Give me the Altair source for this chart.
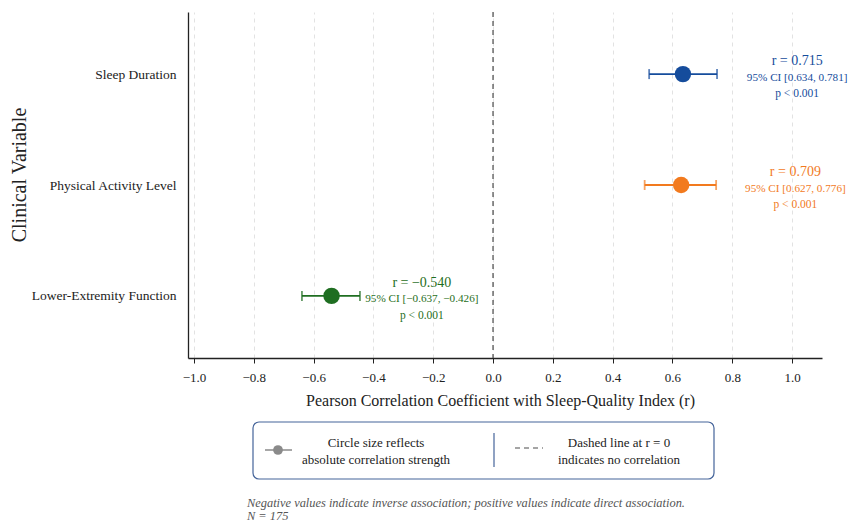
import altair as alt
import pandas as pd

# ---- data ----
variables = ["Sleep Duration", "Physical Activity Level", "Lower-Extremity Function"]
r_values = [0.715, 0.709, -0.540]
ci_low = [0.634, 0.627, -0.637]
ci_high = [0.781, 0.776, -0.426]
p_text = ["p < 0.001", "p < 0.001", "p < 0.001"]
# where the markers are drawn in the reference picture
point_x = [0.635, 0.629, -0.540]
bar_low = [0.522, 0.507, -0.639]
bar_high = [0.749, 0.746, -0.445]
colors = ["#154c9c", "#f27a1e", "#1f6e21"]
x_ticks = [-1.0, -0.8, -0.6, -0.4, -0.2, 0.0, 0.2, 0.4, 0.6, 0.8, 1.0]

FONT = "Liberation Serif"


def fmt(v):
    return f"{v:.3f}".replace("-", "\u2212")


df = pd.DataFrame({
    "variable": variables,
    "r": r_values,
    "px": point_x,
    "lo": bar_low,
    "hi": bar_high,
    "rlab": [f"r = {fmt(v)}" for v in r_values],
    "cilab": [f"95% CI [{fmt(a)}, {fmt(b)}]" for a, b in zip(ci_low, ci_high)],
    "plab": p_text,
})
df["label_x"] = df["r"] + 0.302

xscale = alt.Scale(domain=[-1.02, 1.1], nice=False, zero=False)
yscale = alt.Scale(type="point", padding=0.56, domain=variables)
cscale = alt.Scale(domain=variables, range=colors)

base = alt.Chart(df)

y_enc = alt.Y("variable:N", scale=yscale, sort=variables,
              axis=alt.Axis(title=None, ticks=False, labelFontSize=13.5, labelFont=FONT,
                            labelColor="#222", labelPadding=12, domainColor="#222",
                            domainWidth=1.3, grid=False))
col = alt.Color("variable:N", scale=cscale, legend=None)

errbar = base.mark_rule(strokeWidth=1.8).encode(
    x=alt.X("lo:Q", scale=xscale,
            axis=alt.Axis(values=x_ticks, format=".1f",
                          title="Pearson Correlation Coefficient with Sleep-Quality Index (r)",
                          titleFont=FONT, titleFontSize=16, titleFontWeight="normal",
                          titleColor="#222", titlePadding=8, titleX=312,
                          labelFont=FONT, labelFontSize=13, labelColor="#222", labelPadding=8,
                          tickSize=5, tickColor="#222", domainColor="#222", domainWidth=1.3,
                          grid=True, gridColor="#e2e2e2", gridDash=[4, 4], gridWidth=1)),
    x2="hi:Q",
    y=y_enc,
    color=col,
)
cap_lo = base.mark_tick(size=10, thickness=1.8).encode(x=alt.X("lo:Q", scale=xscale), y=alt.Y("variable:N", scale=yscale), color=col)
cap_hi = base.mark_tick(size=10, thickness=1.8).encode(x=alt.X("hi:Q", scale=xscale), y=alt.Y("variable:N", scale=yscale), color=col)

zero = alt.Chart(pd.DataFrame({"z": [0.0]})).mark_rule(
    strokeDash=[5, 4], color="#555", strokeWidth=1.3
).encode(x=alt.X("z:Q", scale=xscale))

dots = base.mark_circle(size=270, opacity=1).encode(
    x=alt.X("px:Q", scale=xscale), y=alt.Y("variable:N", scale=yscale), color=col)


def lab(field, dy, size):
    return base.mark_text(font=FONT, fontSize=size, dy=dy, align="center", baseline="middle").encode(
        x=alt.X("label_x:Q", scale=xscale), y=alt.Y("variable:N", scale=yscale),
        text=f"{field}:N", color=col)


t_r = lab("rlab", -13, 14)
t_ci = lab("cilab", 3.5, 11.2)
t_p = lab("plab", 20, 11.5)

one = pd.DataFrame({"a": [0]})


def deco_text(txt, x, y, size=13, color="#222", align="center", style="normal", angle=0, baseline="middle"):
    return alt.Chart(one).mark_text(font=FONT, fontSize=size, color=color, align=align,
                                    fontStyle=style, angle=angle, baseline=baseline).encode(
        x=alt.value(x), y=alt.value(y), text=alt.value(txt))


y_title = deco_text("Clinical Variable", -168, 163, size=20, angle=270)

border = "#45649a"
box = alt.Chart(one).mark_rect(fill="white", stroke=border, strokeWidth=1.2, cornerRadius=6).encode(
    x=alt.value(65), x2=alt.value(526), y=alt.value(410), y2=alt.value(467))
leg_line = alt.Chart(one).mark_rule(color="#8a8a8a", strokeWidth=1.5).encode(
    x=alt.value(77), x2=alt.value(104), y=alt.value(438))
leg_dot = alt.Chart(one).mark_circle(color="#8a8a8a", opacity=1, size=95).encode(
    x=alt.value(90), y=alt.value(438))
divider = alt.Chart(one).mark_rule(color=border, strokeWidth=1.2).encode(
    x=alt.value(306), y=alt.value(421), y2=alt.value(455))
leg_dash = alt.Chart(one).mark_rule(color="#888", strokeWidth=1.3, strokeDash=[5, 4]).encode(
    x=alt.value(327), x2=alt.value(355), y=alt.value(436))
lt1 = deco_text("Circle size reflects", 188, 431)
lt2 = deco_text("absolute correlation strength", 188, 448)
lt3 = deco_text("Dashed line at r = 0", 431, 431)
lt4 = deco_text("indicates no correlation", 431, 448)

fn1 = deco_text("Negative values indicate inverse association; positive values indicate direct association.",
                59, 495, size=12.4, color="#555", align="left", style="italic", baseline="alphabetic")
fn2 = deco_text("N = 175", 59, 508, size=12.4, color="#555", align="left", style="italic", baseline="alphabetic")

chart = alt.layer(
    errbar, zero, cap_lo, cap_hi, dots, t_r, t_ci, t_p, y_title,
    box, leg_line, leg_dot, divider, leg_dash, lt1, lt2, lt3, lt4, fn1, fn2,
).properties(
    width=634, height=346,
    autosize=alt.AutoSizeParams(type="none"),
    padding={"left": 180, "top": 4, "right": 26, "bottom": 164},
    background="white",
).configure_view(stroke=None)

chart.save("out.html", embed_options={"renderer": "svg", "actions": False})
